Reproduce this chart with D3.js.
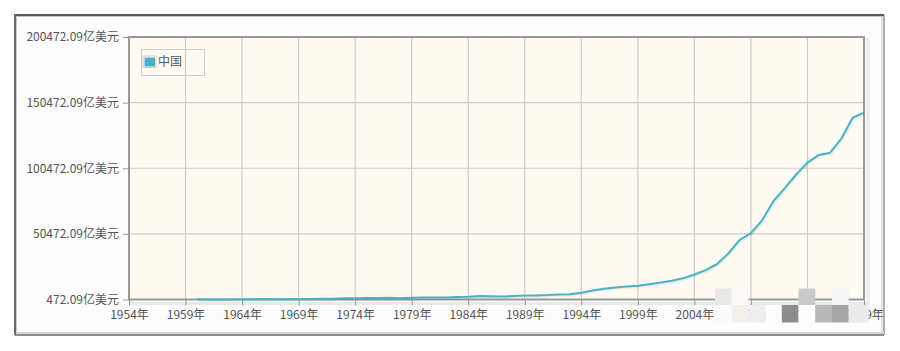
<!DOCTYPE html>
<html>
<head>
<meta charset="utf-8">
<script src="https://cdn.jsdelivr.net/npm/d3@7"></script>
<style>
  html, body { margin: 0; padding: 0; background: #ffffff; }
  svg { display: block; }
  text { font-family: "Noto Sans CJK SC", "Noto Sans", sans-serif; }
</style>
</head>
<body>
<svg id="chart" width="900" height="351"></svg>
<script>
// ---- data (亿美元) ----
const seriesName = "中国";
const years = [1960,1961,1962,1963,1964,1965,1966,1967,1968,1969,
               1970,1971,1972,1973,1974,1975,1976,1977,1978,1979,
               1980,1981,1982,1983,1984,1985,1986,1987,1988,1989,
               1990,1991,1992,1993,1994,1995,1996,1997,1998,1999,
               2000,2001,2002,2003,2004,2005,2006,2007,2008,2009,
               2010,2011,2012,2013,2014,2015,2016,2017,2018,2019];
const gdp = [597.16,500.57,472.09,507.07,594.54,704.36,767.20,728.82,709.47,794.61,
             926.03,998.01,1136.88,1384.18,1442.32,1634.32,1539.40,1749.38,1495.41,1782.81,
             1911.49,1958.66,2050.90,2306.87,2599.47,3094.88,3007.58,2729.73,3123.54,3477.68,
             3608.58,3834.73,4269.16,4447.31,5643.25,7345.48,8637.47,9616.04,10290.43,10939.97,
             12113.47,13393.96,14705.50,16602.88,19553.47,22859.66,27521.32,35522.82,45980.94,51099.54,
             61006.20,75515.00,85322.30,95704.06,104756.83,110615.53,112332.81,123104.09,138948.18,142799.37];
const xTicks = [1954,1959,1964,1969,1974,1979,1984,1989,1994,1999,2004,2009,2014,2019];
const yTicks = [472.09,50472.09,100472.09,150472.09,200472.09];

const svg = d3.select("#chart");

// ---- outer frame ----
const frame = svg.append("g");
frame.append("rect").attr("x",14).attr("y",14).attr("width",872).attr("height",322).attr("fill","#fdfdfd");
frame.append("rect").attr("x",881).attr("y",15).attr("width",2).attr("height",320).attr("fill","#e2e2e2");
frame.append("rect").attr("x",883).attr("y",15).attr("width",2).attr("height",320).attr("fill","#b0b0b0");
frame.append("rect").attr("x",15).attr("y",332).attr("width",869).attr("height",2).attr("fill","#d4d4d4");
frame.append("rect").attr("x",15).attr("y",334).attr("width",869).attr("height",2).attr("fill","#8e8e8e");
frame.append("rect").attr("x",14).attr("y",14).attr("width",870).attr("height",2).attr("fill","#5a5a5a");
frame.append("rect").attr("x",16).attr("y",16).attr("width",867).attr("height",1).attr("fill","#c4c4c4");
frame.append("rect").attr("x",14).attr("y",14).attr("width",2).attr("height",321).attr("fill","#6a6a6a");
frame.append("rect").attr("x",16).attr("y",16).attr("width",1).attr("height",318).attr("fill","#c8c8c8");

// ---- scales ----
const plot = {left:129, right:864, top:37, bottom:299.5};
const x = d3.scaleLinear().domain([1954, 2019]).range([plot.left, plot.right]);
const y = d3.scaleLinear().domain([472.09, 200472.09]).range([plot.bottom, plot.top]);

// plot shadow
svg.append("rect").attr("x",plot.left+2).attr("y",plot.top+2)
  .attr("width",plot.right-plot.left+2).attr("height",plot.bottom-plot.top+2)
  .attr("fill","none").attr("stroke","rgba(0,0,0,0.08)").attr("stroke-width",3);
// plot background
svg.append("rect").attr("x",plot.left).attr("y",plot.top)
  .attr("width",plot.right-plot.left).attr("height",plot.bottom-plot.top)
  .attr("fill","#fffbf3");

// grid
const grid = svg.append("g").attr("stroke","#cccccc").attr("stroke-width",1.2);
grid.selectAll("line.v").data(xTicks.slice(1,-1)).join("line")
  .attr("x1",d=>x(d)).attr("x2",d=>x(d)).attr("y1",plot.top).attr("y2",plot.bottom);
grid.selectAll("line.h").data(yTicks.slice(1,-1)).join("line")
  .attr("x1",plot.left).attr("x2",plot.right).attr("y1",d=>y(d)).attr("y2",d=>y(d));

// ---- axes ----
const yAxis = d3.axisLeft(y).tickValues(yTicks).tickSize(6).tickPadding(4)
  .tickFormat(d => d.toFixed(2) + "亿美元");
const gy = svg.append("g").attr("transform",`translate(${plot.left},0)`).call(yAxis);
const xAxis = d3.axisBottom(x).tickValues(xTicks).tickSize(6).tickPadding(5)
  .tickFormat(d => d + "年");
const gx = svg.append("g").attr("transform",`translate(0,${plot.bottom})`).call(xAxis);
[gx, gy].forEach(g => {
  g.select(".domain").remove();
  g.selectAll(".tick line").attr("stroke","#999999").attr("stroke-width",1);
  g.selectAll(".tick text").attr("fill","#555555").attr("font-size","12px");
});

// plot border
svg.append("rect").attr("x",plot.left).attr("y",plot.top)
  .attr("width",plot.right-plot.left).attr("height",plot.bottom-plot.top)
  .attr("fill","none").attr("stroke","#999999").attr("stroke-width",2);

// ---- line ----
const data = years.map((yr,i)=>({yr, v:gdp[i]}));
const line = d3.line().x(d=>x(d.yr)).y(d=>y(d.v));
for (let k=1;k<=2;k++){
  svg.append("path").datum(data).attr("d",line).attr("fill","none")
    .attr("stroke","rgba(0,0,0,0.04)").attr("stroke-width",2)
    .attr("transform",`translate(${k*0.8},${k*0.8})`);
}
svg.append("path").datum(data).attr("d",line).attr("fill","none")
  .attr("stroke","#4bb2c5").attr("stroke-width",2).attr("stroke-linejoin","round");

// ---- legend ----
const lg = svg.append("g");
lg.append("rect").attr("x",141.5).attr("y",49.5).attr("width",63).attr("height",26)
  .attr("fill","none").attr("stroke","#cccccc");
lg.append("rect").attr("x",143).attr("y",56).attr("width",13).attr("height",11.5)
  .attr("fill","none").attr("stroke","#cccccc");
lg.append("rect").attr("x",144.5).attr("y",57.5).attr("width",10.5).attr("height",9)
  .attr("fill","#4bb2c5");
lg.append("text").attr("x",158).attr("y",66).attr("font-size","12px").attr("fill","#555555")
  .text(seriesName);

// ---- mosaic overlay (obscured watermark in reference) ----
const mosaicRows = [
  {y:288.5, h:16.5, cells:["#e8e8e6","#fbfaf8",null,null,null,"#cacaca",null,"#f6f6f8"]},
  {y:305,   h:17.5, cells:["#fafafa","#f6eee9","#eeeeee","#fdfdfd","#8c8c8c","#fefefe","#b8b8b8","#a6a6a6","#eaeaea"]}
];
const mg = svg.append("g");
mosaicRows.forEach(r => {
  r.cells.forEach((c,i) => {
    if (!c) return;
    const w = (i === 8) ? 20 : 16.8;
    mg.append("rect").attr("x",715+i*16.7).attr("y",r.y).attr("width",w).attr("height",r.h)
      .attr("fill",c);
  });
});
</script>
</body>
</html>
